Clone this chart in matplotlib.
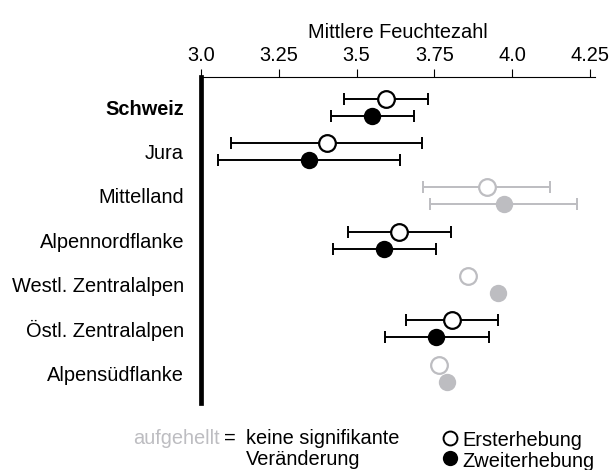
import numpy as np
import matplotlib
matplotlib.use("Agg")
import matplotlib.pyplot as plt
from matplotlib.lines import Line2D

plt.rcParams['font.family'] = ['Liberation Sans', 'DejaVu Sans']

# values
categories = ["Schweiz", "Jura", "Mittelland", "Alpennordflanke",
              "Westl. Zentralalpen", "Östl. Zentralalpen", "Alpensüdflanke"]
first_mean = [3.594, 3.404, 3.917, 3.637, 3.858, 3.806, 3.765]
first_lo = [3.459, 3.097, 3.713, 3.471, np.nan, 3.659, np.nan]
first_hi = [3.728, 3.709, 4.122, 3.802, np.nan, 3.954, np.nan]
second_mean = [3.549, 3.348, 3.972, 3.588, 3.954, 3.756, 3.789]
second_lo = [3.417, 3.056, 3.737, 3.423, np.nan, 3.590, np.nan]
second_hi = [3.685, 3.640, 4.208, 3.754, np.nan, 3.924, np.nan]
significant = [True, True, False, True, False, True, False]
xticks = [3.0, 3.25, 3.5, 3.75, 4.0, 4.25]
xtick_labels = ["3.0", "3.25", "3.5", "3.75", "4.0", "4.25"]

FS = 14.4
GRAY = '#bdbdc1'
off = 0.19
W, H = 614, 470


def fx(px):
    return px / W


def fy(py):
    return 1 - py / H


fig = plt.figure(figsize=(6.14, 4.70), dpi=100)
ax = fig.add_axes([fx(200.7), fy(402.7), fx(595) - fx(200.7), fy(77) - fy(402.7)])

for i, cat in enumerate(categories):
    col = 'black' if significant[i] else GRAY
    y1 = i - off
    y2 = i + off
    # error bars first, markers on top
    if not np.isnan(first_lo[i]):
        m = first_mean[i]
        ax.errorbar([m], [y1], xerr=[[m - first_lo[i]], [first_hi[i] - m]],
                    fmt='none', ecolor=col, elinewidth=1.4, capsize=4.5,
                    capthick=1.4, zorder=2)
    if not np.isnan(second_lo[i]):
        m = second_mean[i]
        ax.errorbar([m], [y2], xerr=[[m - second_lo[i]], [second_hi[i] - m]],
                    fmt='none', ecolor=col, elinewidth=1.4, capsize=4.5,
                    capthick=1.4, zorder=2)
    ax.plot([first_mean[i]], [y1], 'o', ms=12, mfc='white', mec=col,
            mew=1.6, zorder=3)
    ax.plot([second_mean[i]], [y2], 'o', ms=12.5, mfc=col, mec=col,
            mew=0, zorder=3)

ax.set_xlim(3.0, 4.265)
ax.set_ylim(6.668, -0.684)

ax.set_yticks(range(len(categories)))
ax.set_yticklabels(categories, fontsize=FS)
ax.get_yticklabels()[0].set_fontweight('bold')
ax.tick_params(axis='y', length=0, pad=12)

ax.xaxis.tick_top()
ax.xaxis.set_label_position('top')
ax.set_xticks(xticks)
ax.set_xticklabels(xtick_labels, fontsize=FS)
ax.tick_params(axis='x', length=5.5, width=0.8, pad=3, direction='out')
ax.set_xlabel("Mittlere Feuchtezahl", fontsize=FS, labelpad=6)

for s in ['right', 'bottom']:
    ax.spines[s].set_visible(False)
ax.spines['top'].set_linewidth(0.8)
ax.spines['left'].set_linewidth(3.4)

# notes below the chart
fig.text(fx(220), fy(444), "aufgehellt", color=GRAY, fontsize=FS,
         ha='right', va='baseline')
fig.text(fx(224), fy(444), "=", fontsize=FS, ha='left', va='baseline')
fig.text(fx(246), fy(444), "keine signifikante", fontsize=FS,
         ha='left', va='baseline')
fig.text(fx(246), fy(465), "Veränderung", fontsize=FS,
         ha='left', va='baseline')

fig.add_artist(Line2D([fx(450)], [fy(437.5)], transform=fig.transFigure,
                      marker='o', ls='none', ms=10, mfc='white',
                      mec='black', mew=1.4))
fig.add_artist(Line2D([fx(450)], [fy(458)], transform=fig.transFigure,
                      marker='o', ls='none', ms=11, mfc='black',
                      mec='black', mew=0))
fig.text(fx(462), fy(446), "Ersterhebung", fontsize=FS, ha='left',
         va='baseline')
fig.text(fx(462), fy(467), "Zweiterhebung", fontsize=FS, ha='left',
         va='baseline')

fig.savefig("out.png", dpi=100)
